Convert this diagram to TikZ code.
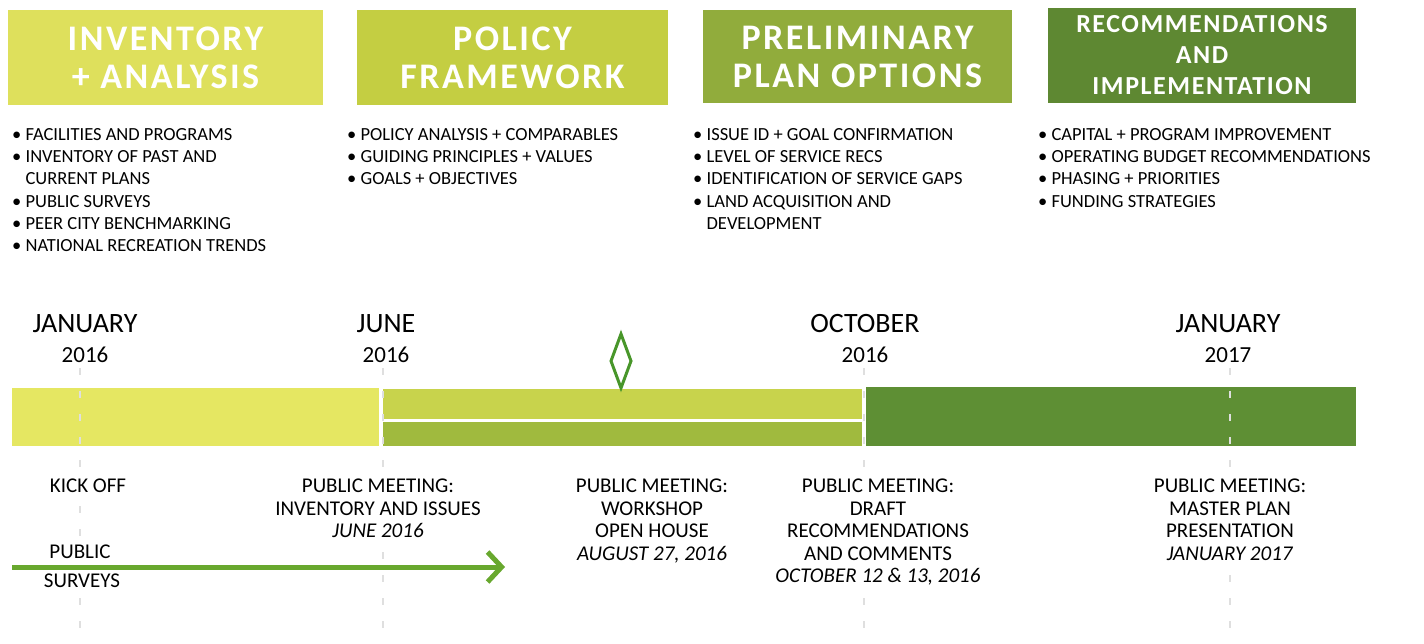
\documentclass[tikz,border=0pt]{standalone}
\usepackage{fontspec}
\setmainfont{Carlito}
\usetikzlibrary{arrows.meta}

\definecolor{invcol}{RGB}{222,224,92}
\definecolor{polcol}{RGB}{196,206,66}
\definecolor{precol}{RGB}{145,172,60}
\definecolor{reccol}{RGB}{94,136,50}
\definecolor{baryellow}{RGB}{229,231,98}
\definecolor{barlime}{RGB}{200,211,76}
\definecolor{barolive}{RGB}{160,186,62}
\definecolor{bargreen}{RGB}{94,143,52}
\definecolor{markgreen}{RGB}{72,150,42}
\definecolor{arrowgreen}{RGB}{104,168,46}

\newcommand{\blt}{\textbullet\ }
\newcommand{\cnt}{\hphantom{\textbullet\ }}
\newcommand{\yrfont}{\fontsize{23}{23}\selectfont}

\tikzset{
  phasebox/.style={fill=#1, text=white, align=center, inner sep=0pt,
    font=\bfseries\fontsize{36}{38}\selectfont\addfontfeature{LetterSpace=7}},
  bullets/.style={anchor=north west, align=left, inner sep=0pt,
    font=\fontsize{18.5}{22.3}\selectfont},
  month/.style={anchor=north, align=center, inner sep=0pt,
    font=\fontsize{28}{30}\selectfont},
  event/.style={anchor=north, align=center, inner sep=1pt, fill=white,
    font=\fontsize{21}{22.5}\selectfont},
  tick/.style={gray!25, line width=1.5pt, dash pattern=on 7pt off 16pt}
}

\begin{document}
\begin{tikzpicture}[x=1pt,y=-1pt]
  \useasboundingbox (0,0) rectangle (1424,644);
  % phase headers
  \node[phasebox=invcol, minimum width=315pt, minimum height=95pt] (invbox) at (165.5,57.5) {INVENTORY\\+ ANALYSIS};
  \node[phasebox=polcol, minimum width=311pt, minimum height=95pt] (polbox) at (512.5,57.5) {POLICY\\FRAMEWORK};
  \node[phasebox=precol, minimum width=309pt, minimum height=93pt] (prebox) at (857.5,56.5) {PRELIMINARY\\PLAN OPTIONS};
  \node[phasebox=reccol, minimum width=308pt, minimum height=95pt,
    font=\bfseries\fontsize{26}{31}\selectfont\addfontfeature{LetterSpace=6}] (recbox) at (1202,55.5)
    {RECOMMENDATIONS\\AND\\IMPLEMENTATION};
  % task lists
  \node[bullets] (invlist) at (12,128) {\blt FACILITIES AND PROGRAMS\\\blt INVENTORY OF PAST AND\\\cnt CURRENT PLANS\\\blt PUBLIC SURVEYS\\\blt PEER CITY BENCHMARKING\\\blt NATIONAL RECREATION TRENDS};
  \node[bullets] (pollist) at (347,128) {\blt POLICY ANALYSIS + COMPARABLES\\\blt GUIDING PRINCIPLES + VALUES\\\blt GOALS + OBJECTIVES};
  \node[bullets] (prelist) at (693,128) {\blt ISSUE ID + GOAL CONFIRMATION\\\blt LEVEL OF SERVICE RECS\\\blt IDENTIFICATION OF SERVICE GAPS\\\blt LAND ACQUISITION AND\\\cnt DEVELOPMENT};
  \node[bullets] (reclist) at (1038,128) {\blt CAPITAL + PROGRAM IMPROVEMENT\\\blt OPERATING BUDGET RECOMMENDATIONS\\\blt PHASING + PRIORITIES\\\blt FUNDING STRATEGIES};
  % months
  \node[month] (jan16) at (85,314) {JANUARY\\{\yrfont 2016}};
  \node[month] (jun16) at (386,314) {JUNE\\{\yrfont 2016}};
  \node[month] (oct16) at (865,314) {OCTOBER\\{\yrfont 2016}};
  \node[month] (jan17) at (1228,314) {JANUARY\\{\yrfont 2017}};
  % timeline bars
  \fill[baryellow] (12,388) rectangle (379,446);
  \fill[barlime] (383,389) rectangle (862,419);
  \fill[barolive] (383,422) rectangle (862,446);
  \fill[bargreen] (866,387) rectangle (1356,446);
  \draw[markgreen, line width=3pt, line join=miter] (621,334) -- (631,361) -- (621,388) -- (611,361) -- cycle;
  % month ticks
  \draw[tick] (80,368) -- (80,644);
  \draw[tick] (383,368) -- (383,644);
  \draw[tick] (864,368) -- (864,644);
  \draw[tick] (1230,368) -- (1230,644);
  % public meetings
  \node[event] (kickoff) at (88,478) {KICK OFF};
  \node[event] (meet1) at (378,478) {PUBLIC MEETING:\\INVENTORY AND ISSUES\\\textit{JUNE 2016}};
  \node[event] (meet2) at (652,478) {PUBLIC MEETING:\\WORKSHOP\\OPEN HOUSE\\\textit{AUGUST 27, 2016}};
  \node[event] (meet3) at (878,478) {PUBLIC MEETING:\\DRAFT\\RECOMMENDATIONS\\AND COMMENTS\\\textit{OCTOBER 12 \& 13, 2016}};
  \node[event] (meet4) at (1230,478) {PUBLIC MEETING:\\MASTER PLAN\\PRESENTATION\\\textit{JANUARY 2017}};
  % surveys
  \node[event] (surveys1) at (80,544) {PUBLIC};
  \node[event] (surveys2) at (82,573) {SURVEYS};
  \coordinate (surveystart) at (12,567);
  \coordinate (surveyend) at (505,567);
  \draw[arrowgreen, line width=5pt, -{Straight Barb[length=14pt,width=30pt,line width=5pt]}] (surveystart) -- (surveyend);
\end{tikzpicture}
\end{document}
